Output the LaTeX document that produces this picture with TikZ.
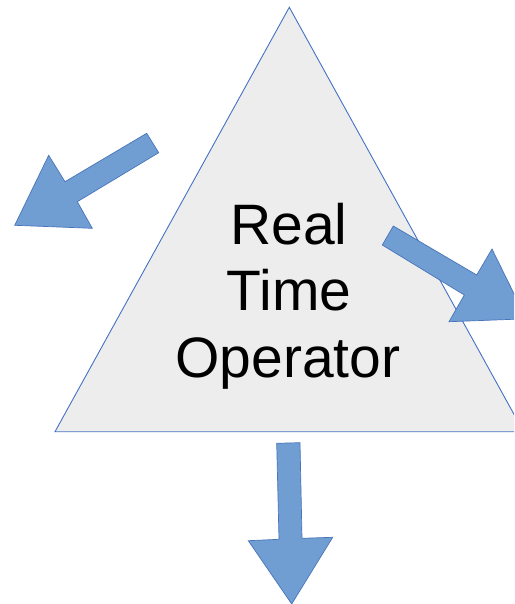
\documentclass[tikz,border=0pt]{standalone}
\usepackage{fontspec}
\setmainfont{Liberation Sans}
\definecolor{trifill}{RGB}{237,237,237}
\definecolor{triline}{RGB}{68,114,196}
\definecolor{arrowfill}{RGB}{112,158,210}
\definecolor{arrowline}{RGB}{72,116,186}
\tikzset{
  blockarrow/.style={fill=arrowfill, draw=arrowline, line width=0.7pt, line join=miter},
  tribox/.style={fill=trifill, draw=triline, line width=0.9pt, line join=miter},
  label/.style={font=\fontsize{57}{66.5}\selectfont, anchor=base, inner sep=0pt}
}
\begin{document}
\begin{tikzpicture}[x=1pt, y=-1pt]
  \useasboundingbox (0,0) rectangle (514,604);
  \clip (0,0) rectangle (514,604);
  \fill[white] (0,0) rectangle (514,604);

  % operator triangle
  \coordinate (apex) at (289.3,7.3);
  \coordinate (bl) at (55,431.7);
  \coordinate (br) at (523.6,431.7);
  \draw[tribox] (apex) -- (bl) -- (br) -- cycle;

  % outgoing block arrows
  \draw[blockarrow] (146.7,133.3) -- (158.7,152.7) -- (77.3,201.7) -- (92.3,228.3)
    -- (14.7,225.3) -- (48.7,155.3) -- (65,181.7) -- cycle;
  \draw[blockarrow] (393.3,226) -- (476.7,275) -- (492,249) -- (526.4,318.8)
    -- (449,321.7) -- (464.3,295) -- (382.3,245) -- cycle;
  \draw[blockarrow] (276.7,443.3) -- (300,442.7) -- (302,538.3) -- (332.7,537.3)
    -- (291.7,604) -- (248.3,540.7) -- (279,539.3) -- cycle;

  % caption inside the triangle
  \node[label] (real) at (289,244.3) {Real};
  \node[label] (time) at (289,310.7) {Time};
  \node[label] (op) at (288,377.2) {Operator};
\end{tikzpicture}
\end{document}
